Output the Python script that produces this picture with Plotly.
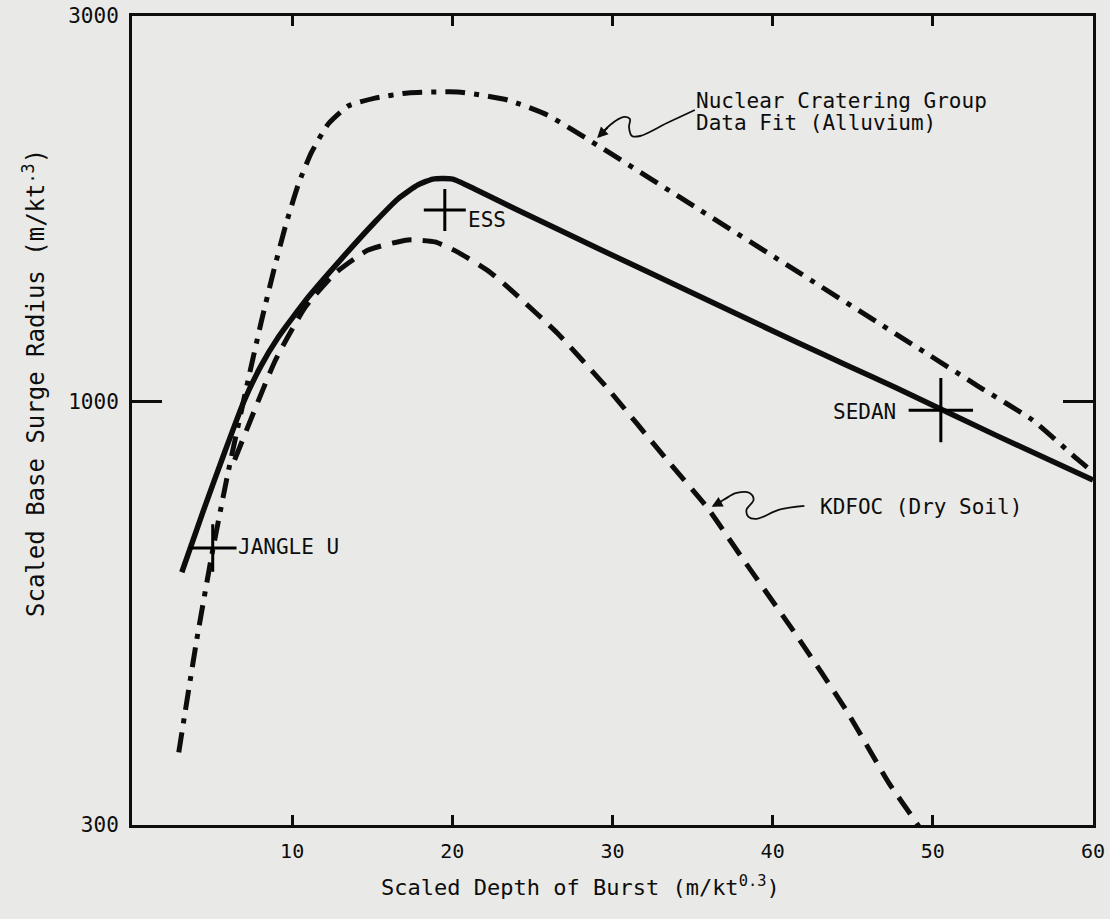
import numpy as np
import plotly.graph_objects as go

# Scaled depth of burst (m/kt^0.3) vs scaled base surge radius (m/kt^.3)

# Nuclear Cratering Group data fit (alluvium)
ncg_depth = [2.92, 4.04, 5.04, 6.03, 7.28, 8.08, 8.83, 9.58, 10.39, 11.19, 12.25,
             13.50, 15.17, 17.23, 20.34, 23.45, 25.93, 29.04, 35.26, 41.48, 47.70,
             49.56, 52.86, 56.22, 59.08, 60.0]
ncg_radius = [369, 508, 656, 824, 1071, 1259, 1448, 1650, 1859, 2032, 2206,
              2322, 2375, 2410, 2417, 2362, 2263, 2078, 1737, 1452, 1213,
              1150, 1045, 950, 848, 819]

# Recommended fit through the events
fit_depth = [3.11, 4.48, 5.72, 6.97, 8.02, 9.14, 11.01, 13.06, 15.17, 16.60, 17.85,
             18.78, 20.02, 21.39, 24.07, 29.04, 35.26, 41.48, 44.59, 47.70, 53.92, 60.0]
fit_radius = [616, 736, 860, 1000, 1105, 1203, 1348, 1502, 1669, 1782, 1855,
              1886, 1886, 1834, 1727, 1550, 1356, 1186, 1111, 1041, 910, 801]

# KDFOC (dry soil)
kdfoc_depth = [6.41, 8.96, 10.82, 12.69, 14.74, 17.23, 18.91, 20.34, 22.39, 23.88,
               26.55, 29.66, 33.40, 35.88, 38.18, 41.48, 44.59, 47.26, 49.07, 49.5]
kdfoc_radius = [848, 1127, 1310, 1443, 1541, 1586, 1577, 1532, 1445, 1363,
                1217, 1041, 848, 742, 638, 515, 416, 338, 300, 290]

# Events
event_names = ["JANGLE U", "ESS", "SEDAN"]
event_depth = [5.04, 19.53, 50.5]
event_radius = [660, 1727, 977]

FONT = "DejaVu Sans Mono"
INK = "#0d0d0d"
PAPER = "#e9e9e7"

fig = go.Figure()

fig.add_trace(go.Scatter(
    x=ncg_depth, y=ncg_radius, mode="lines",
    line=dict(color=INK, width=5, dash="20px,9px,5px,9px", shape="spline", smoothing=0.5),
    hoverinfo="skip"))
fig.add_trace(go.Scatter(
    x=fit_depth, y=fit_radius, mode="lines",
    line=dict(color=INK, width=5.5, shape="spline", smoothing=0.5),
    hoverinfo="skip"))
fig.add_trace(go.Scatter(
    x=kdfoc_depth, y=kdfoc_radius, mode="lines",
    line=dict(color=INK, width=5, dash="20px,11px", shape="spline", smoothing=0.5),
    hoverinfo="skip"))

# Event markers
fig.add_trace(go.Scatter(
    x=event_depth, y=event_radius, mode="markers",
    marker=dict(symbol="cross-thin", size=[34, 30, 46], color=INK, opacity=1,
                line=dict(color="#000000", width=3)),
    hoverinfo="skip"))

# Wavy leader lines to the curve labels
ncg_leader_x = [35.14, 33.40, 31.72, 31.22, 31.03, 31.09, 30.72, 29.85, 29.17]
ncg_leader_y = [2296, 2212, 2132, 2132, 2187, 2238, 2251, 2200, 2126]
kdfoc_leader_x = [41.98, 40.42, 38.99, 38.49, 38.37, 38.81, 38.56, 37.75, 36.94, 36.30]
kdfoc_leader_y = [744, 736, 717, 721, 736, 757, 772, 772, 757, 744]
for lx, ly in [(ncg_leader_x, ncg_leader_y), (kdfoc_leader_x, kdfoc_leader_y)]:
    fig.add_trace(go.Scatter(
        x=lx, y=ly, mode="lines",
        line=dict(color=INK, width=1.8, shape="spline", smoothing=1.0),
        hoverinfo="skip"))

annotations = []
# arrowheads at the curve end of each leader
for tip_x, tip_y, ax, ay in [(29.04, 2120, 12, -12), (36.19, 742, 11, -6)]:
    annotations.append(dict(
        x=tip_x, y=np.log10(tip_y), xref="x", yref="y", text="",
        showarrow=True, arrowhead=2, arrowsize=1.2, arrowwidth=1.8,
        arrowcolor=INK, ax=ax, ay=ay, standoff=0))

label_font = dict(family=FONT, size=21, color=INK)
labels = [
    ("Nuclear Cratering Group", 35.07, 2355, "left"),
    ("Data Fit (Alluvium)", 35.07, 2212, "left"),
    ("KDFOC (Dry Soil)", 42.85, 742, "left"),
    ("JANGLE U", 6.47, 662, "left"),
    ("ESS", 20.83, 1679, "left"),
    ("SEDAN", 47.82, 972, "right"),
]
for text, lx, ly, anchor in labels:
    annotations.append(dict(
        x=lx, y=np.log10(ly), xref="x", yref="y", text=text,
        showarrow=False, xanchor=anchor, yanchor="middle", font=label_font))

# Plot area in pixels, used to place the axis titles
PL, PR, PT, PB = 132, 1093, 16, 825
PW, PH = PR - PL, PB - PT

annotations.append(dict(
    x=(580 - PL) / PW, y=-(886 - PB) / PH, xref="paper", yref="paper",
    text="Scaled Depth of Burst (m/kt<sup>0.3</sup>)", showarrow=False,
    xanchor="center", yanchor="middle", font=dict(family=FONT, size=22, color=INK)))
annotations.append(dict(
    x=-(PL - 34) / PW, y=(PB - 383) / PH, xref="paper", yref="paper",
    text="Scaled Base Surge Radius (m/kt<sup>.3</sup>)", showarrow=False,
    textangle=-90, xanchor="center", yanchor="middle",
    font=dict(family=FONT, size=24, color=INK)))

fig.update_layout(
    width=1110, height=919,
    margin=dict(l=PL, r=1110 - PR, t=PT, b=919 - PB),
    paper_bgcolor=PAPER, plot_bgcolor=PAPER,
    showlegend=False,
    annotations=annotations,
    font=dict(family=FONT, size=20, color=INK),
    xaxis=dict(
        range=[0, 60], tickvals=[10, 20, 30, 40, 50, 60],
        ticks="inside", ticklen=10, tickwidth=2.5, tickcolor=INK,
        showline=True, linecolor=INK, linewidth=3, mirror="ticks",
        showgrid=False, zeroline=False, ticklabelstandoff=6, automargin=False,
        ticklabeloverflow="allow",
        tickfont=dict(family=FONT, size=20, color=INK)),
    yaxis=dict(
        type="log", range=[np.log10(300), np.log10(3000)],
        tickvals=[300, 1000, 3000], ticktext=["300", "1000", "3000"],
        ticks="inside", ticklen=30, tickwidth=2.5, tickcolor=INK,
        showline=True, linecolor=INK, linewidth=3, mirror="ticks",
        showgrid=False, zeroline=False, ticklabelstandoff=6, automargin=False,
        ticklabeloverflow="allow",
        tickfont=dict(family=FONT, size=21, color=INK)),
)

fig.write_html("out.html")
